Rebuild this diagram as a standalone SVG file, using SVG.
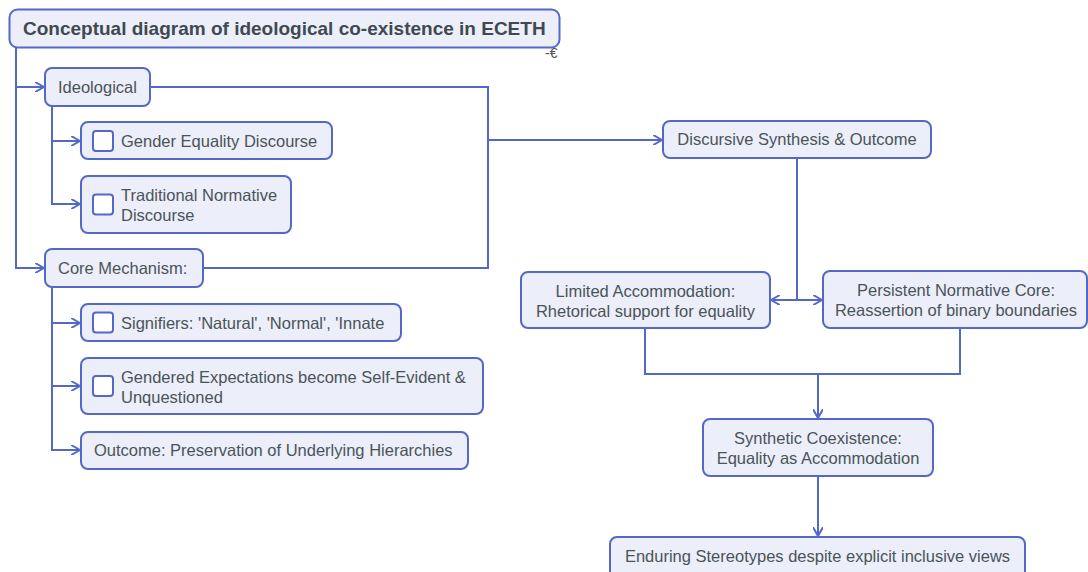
<svg xmlns="http://www.w3.org/2000/svg" width="1088" height="572" viewBox="0 0 1088 572">
  <defs>
    <marker id="arr" viewBox="0 0 10 10" markerWidth="10" markerHeight="10" refX="9" refY="5" orient="auto" markerUnits="userSpaceOnUse">
      <path d="M1,0.5 L9,5 L1,9.5" fill="none" stroke="#5468c8" stroke-width="2" stroke-linecap="round" stroke-linejoin="round"/>
    </marker>
    <style>
      .box { fill: #eceef9; stroke: #5468c8; stroke-width: 2; }
      .chk { fill: #ffffff; stroke: #5468c8; stroke-width: 2; }
      .t { font-family: "Liberation Sans", Arial, sans-serif; font-size: 16.5px; fill: #4a5458; }
      .c { text-anchor: middle; }
      .title { font-family: "Liberation Sans", Arial, sans-serif; font-size: 19px; font-weight: bold; fill: #3f4a50; }
      .ln { fill: none; stroke: #5468c8; stroke-width: 2; }
    </style>
  </defs>
  <rect width="1088" height="572" fill="#ffffff"/>

  <g id="connectors">
    <path class="ln" d="M16,48 V268 H44" marker-end="url(#arr)"/>
    <path class="ln" d="M16,87 H44" marker-end="url(#arr)"/>
    <path class="ln" d="M52,106 V204 H80" marker-end="url(#arr)"/>
    <path class="ln" d="M52,141 H80" marker-end="url(#arr)"/>
    <path class="ln" d="M52,287 V450 H80" marker-end="url(#arr)"/>
    <path class="ln" d="M52,323 H80" marker-end="url(#arr)"/>
    <path class="ln" d="M52,386 H80" marker-end="url(#arr)"/>
    <path class="ln" d="M150,87 H488 V140 H662" marker-end="url(#arr)"/>
    <path class="ln" d="M203,268 H488 V140"/>
    <path class="ln" d="M797,158 V300 H771" marker-end="url(#arr)"/>
    <path class="ln" d="M797,300 H822" marker-end="url(#arr)"/>
    <path class="ln" d="M645,328 V374 H818 V418" marker-end="url(#arr)"/>
    <path class="ln" d="M960,328 V374 H818"/>
    <path class="ln" d="M818,477 V536" marker-end="url(#arr)"/>
  </g>

  <g id="title">
    <rect class="box" x="9.5" y="9.5" width="550" height="38" rx="8"/>
    <text class="title" x="23" y="35">Conceptual diagram of ideological co-existence in ECETH</text>
    <text x="545" y="58" font-family="'Liberation Sans', Arial, sans-serif" font-size="14" fill="#505050">-€</text>
  </g>

  <g id="ideological">
    <rect class="box" x="45" y="68" width="105" height="38" rx="7"/>
    <text class="t" x="58" y="93">Ideological</text>
  </g>

  <g id="gender-equality">
    <rect class="box" x="81" y="122" width="251" height="37" rx="7"/>
    <rect class="chk" x="93" y="131" width="20" height="20" rx="3"/>
    <text class="t" x="121" y="147">Gender Equality Discourse</text>
  </g>

  <g id="traditional-normative">
    <rect class="box" x="81" y="176" width="210" height="57" rx="7"/>
    <rect class="chk" x="93" y="194.5" width="20" height="20" rx="3"/>
    <text class="t" x="121" y="201">Traditional Normative</text>
    <text class="t" x="121" y="221">Discourse</text>
  </g>

  <g id="core-mechanism">
    <rect class="box" x="45" y="249" width="158" height="38" rx="7"/>
    <text class="t" x="58" y="274">Core Mechanism:</text>
  </g>

  <g id="signifiers">
    <rect class="box" x="81" y="304" width="320" height="37" rx="7"/>
    <rect class="chk" x="93" y="312.5" width="20" height="20" rx="3"/>
    <text class="t" x="121" y="329">Signifiers: 'Natural', 'Normal', 'Innate</text>
  </g>

  <g id="gendered-expectations">
    <rect class="box" x="81" y="358" width="402" height="56" rx="7"/>
    <rect class="chk" x="93" y="376" width="20" height="20" rx="3"/>
    <text class="t" x="121" y="383">Gendered Expectations become Self-Evident &amp;</text>
    <text class="t" x="121" y="403">Unquestioned</text>
  </g>

  <g id="outcome-preservation">
    <rect class="box" x="81" y="432" width="387" height="37" rx="7"/>
    <text class="t" x="94" y="456">Outcome: Preservation of Underlying Hierarchies</text>
  </g>

  <g id="discursive-synthesis">
    <rect class="box" x="663" y="121" width="268" height="37" rx="7"/>
    <text class="t c" x="797" y="145">Discursive Synthesis &amp; Outcome</text>
  </g>

  <g id="limited-accommodation">
    <rect class="box" x="521" y="272" width="249" height="56" rx="7"/>
    <text class="t c" x="645.5" y="297">Limited Accommodation:</text>
    <text class="t c" x="645.5" y="317">Rhetorical support for equality</text>
  </g>

  <g id="persistent-normative-core">
    <rect class="box" x="823" y="271" width="264" height="57" rx="7"/>
    <text class="t c" x="956" y="296">Persistent Normative Core:</text>
    <text class="t c" x="956" y="316">Reassertion of binary boundaries</text>
  </g>

  <g id="synthetic-coexistence">
    <rect class="box" x="703" y="419" width="230" height="57" rx="7"/>
    <text class="t c" x="818" y="444">Synthetic Coexistence:</text>
    <text class="t c" x="818" y="464">Equality as Accommodation</text>
  </g>

  <g id="enduring-stereotypes">
    <rect class="box" x="610" y="537" width="415" height="42" rx="7"/>
    <text class="t c" x="817.5" y="562">Enduring Stereotypes despite explicit inclusive views</text>
  </g>
</svg>
